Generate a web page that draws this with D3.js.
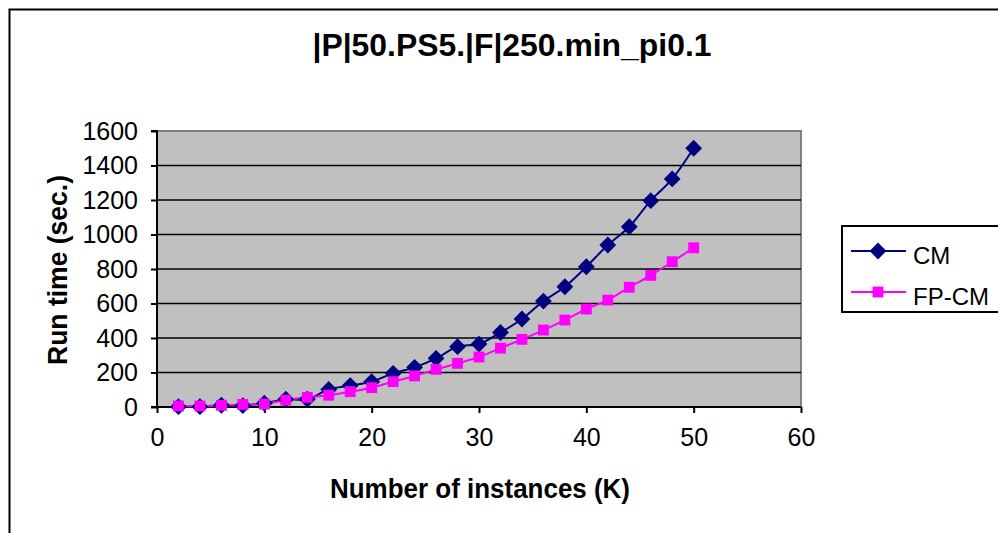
<!DOCTYPE html>
<html><head><meta charset="utf-8">
<script src="https://cdn.jsdelivr.net/npm/d3@7"></script>
<style>html,body{margin:0;padding:0;background:#fff;overflow:hidden}svg{display:block}</style>
</head><body>
<svg id="chart" width="998" height="533"></svg>
<script>
const titleText = "|P|50.PS5.|F|250.min_pi0.1";
const xLabel = "Number of instances (K)";
const yLabel = "Run time (sec.)";
const instances = [2,4,6,8,10,12,14,16,18,20,22,24,26,28,30,32,34,36,38,40,42,44,46,48,50];
const cmValues = [2,2,10,8,22,45,45,102,124,147,195,230,282,350,365,432,510,614,697,813,939,1045,1196,1322,1500];
const fpcmValues = [6,6,10,15,17,40,56,68,89,112,147,180,218,253,290,341,392,446,504,568,620,694,763,842,923];
const xTicks = [0,10,20,30,40,50,60];
const yTicks = [0,200,400,600,800,1000,1200,1400,1600];
const seriesNames = ["CM","FP-CM"];

const svg = d3.select("#chart");
const font = "Liberation Sans, Arial, sans-serif";

// outer chart border
svg.append("rect").attr("x",9.5).attr("y",9.5).attr("width",1000).attr("height",540)
  .attr("fill","#fff").attr("stroke","#000").attr("stroke-width",2);

const L=157, R=801, T=131, B=407;
const x = d3.scaleLinear().domain([0,60]).range([L,R]);
const y = d3.scaleLinear().domain([0,1600]).range([B,T]);

// plot area
svg.append("rect").attr("x",L).attr("y",T).attr("width",R-L).attr("height",B-T)
  .attr("fill","#C0C0C0").attr("stroke","#808080").attr("stroke-width",2);

// gridlines
svg.append("g").selectAll("line").data(yTicks.filter(d=>d>0 && d<1600)).join("line")
  .attr("x1",L).attr("x2",R).attr("y1",d=>y(d)).attr("y2",d=>y(d))
  .attr("stroke","#000").attr("stroke-width",1.5);

// axes
const yAxis = d3.axisLeft(y).tickValues(yTicks).tickSize(6).tickPadding(13).tickFormat(d3.format("d"));
const gy = svg.append("g").attr("transform",`translate(${L},0)`).call(yAxis);
const xAxis = d3.axisBottom(x).tickValues(xTicks).tickSize(6).tickPadding(15).tickFormat(d3.format("d"));
const gx = svg.append("g").attr("transform",`translate(0,${B})`).call(xAxis);
[gx,gy].forEach(g=>{
  g.select(".domain").attr("stroke","#000").attr("stroke-width",2);
  g.selectAll(".tick line").attr("stroke","#000").attr("stroke-width",2);
  g.selectAll(".tick text").attr("font-family",font).attr("font-size",25).attr("fill","#000");
});
gy.select(".domain").attr("d",`M-6,${T}H0V${B}H-6`);
gx.select(".domain").attr("d",`M${L},0H${R}`);

// series
const series = [
  {name:seriesNames[0], vals:cmValues, color:"#000080", sym:d3.symbolDiamond2},
  {name:seriesNames[1], vals:fpcmValues, color:"#FF00FF", sym:d3.symbolSquare2}
];
const line = d3.line().x(d=>x(d[0])).y(d=>y(d[1])).curve(d3.curveCatmullRom.alpha(0));
series.forEach(s=>{
  const pts = instances.map((v,i)=>[v,s.vals[i]]);
  svg.append("path").datum(pts).attr("d",line).attr("fill","none")
    .attr("stroke",s.color).attr("stroke-width",2);
});
const symSize = {CM:180, "FP-CM":150};
series.forEach(s=>{
  const pts = instances.map((v,i)=>[v,s.vals[i]]);
  svg.append("g").selectAll("path").data(pts).join("path")
    .attr("transform",d=>`translate(${x(d[0])},${y(d[1])})`)
    .attr("d",d3.symbol().type(s.sym).size(symSize[s.name]))
    .attr("fill",s.color);
});

// title
svg.append("text").attr("x",512).attr("y",56).attr("text-anchor","middle")
  .attr("font-family",font).attr("font-weight","bold").attr("font-size",31)
  .attr("textLength",399).attr("lengthAdjust","spacingAndGlyphs").text(titleText);

// axis titles
svg.append("text").attr("x",480).attr("y",498).attr("text-anchor","middle")
  .attr("font-family",font).attr("font-weight","bold").attr("font-size",27)
  .attr("textLength",300).attr("lengthAdjust","spacingAndGlyphs").text(xLabel);
svg.append("text").attr("transform","translate(67,270) rotate(-90)").attr("text-anchor","middle")
  .attr("font-family",font).attr("font-weight","bold").attr("font-size",27)
  .attr("textLength",190).attr("lengthAdjust","spacingAndGlyphs").text(yLabel);

// legend
const lg = svg.append("g");
lg.append("rect").attr("x",842).attr("y",226).attr("width",170).attr("height",86)
  .attr("fill","#fff").attr("stroke","#000").attr("stroke-width",2);
series.forEach((s,i)=>{
  const ly = 251 + i*41;
  lg.append("line").attr("x1",851).attr("x2",906).attr("y1",ly).attr("y2",ly)
    .attr("stroke",s.color).attr("stroke-width",2);
  lg.append("path").attr("transform",`translate(878,${ly})`)
    .attr("d",d3.symbol().type(s.sym).size(symSize[s.name])).attr("fill",s.color);
  lg.append("text").attr("x",913).attr("y",ly+6).attr("dy","0.3em")
    .attr("font-family",font).attr("font-size",24).attr("fill","#000").text(s.name);
});
</script>
</body></html>
